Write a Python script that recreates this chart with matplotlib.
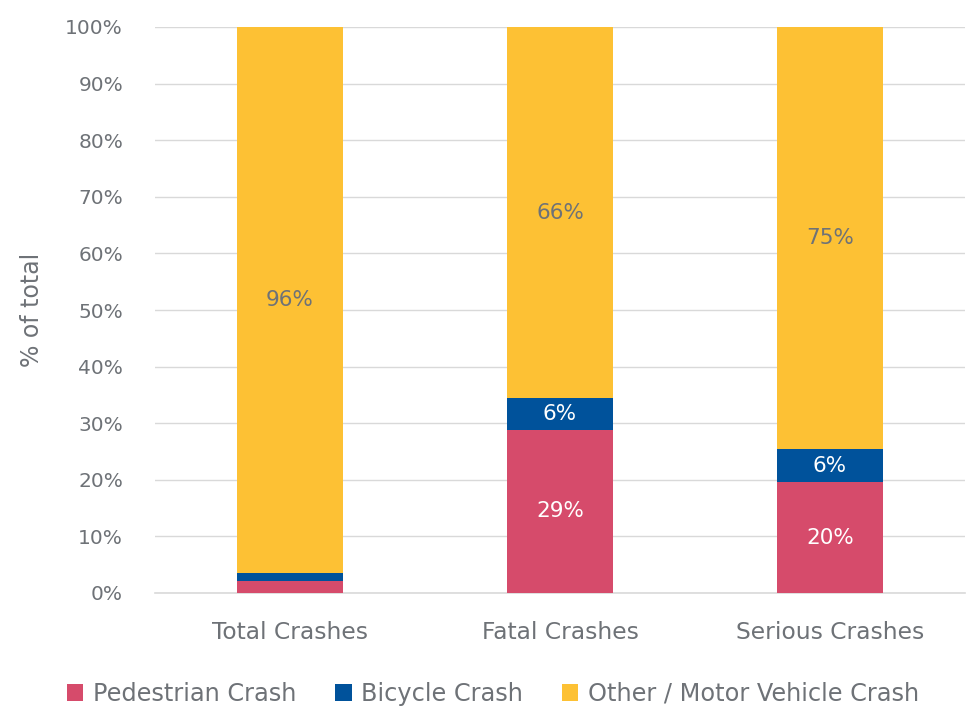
import matplotlib
matplotlib.use("Agg")
import matplotlib.pyplot as plt
from matplotlib.patches import Patch
from matplotlib.ticker import PercentFormatter

plt.rcParams['font.family'] = ['DejaVu Sans']

categories = ["Total Crashes", "Fatal Crashes", "Serious Crashes"]
series_names = ["Pedestrian Crash", "Bicycle Crash", "Other / Motor Vehicle Crash"]
pedestrian = [2.2, 28.8, 19.6]
bicycle = [1.4, 5.6, 5.8]
other = [96.4, 65.6, 74.6]
colors = ["#D64B6B", "#00529B", "#FDC134"]
label_colors = ["white", "white", "#6E7277"]
min_labeled = 4.0

text_gray = "#6E7277"

fig = plt.figure(figsize=(9.72, 7.07), dpi=100)
ax = fig.add_axes([155 / 972, (707 - 593) / 707, 810 / 972, 566 / 707])

x = list(range(len(categories)))
bottoms = [0.0] * len(categories)
for vals, name, col, lcol in zip([pedestrian, bicycle, other], series_names, colors, label_colors):
    ax.bar(x, vals, width=0.396, bottom=bottoms, color=col, label=name, zorder=3)
    for xi, v, b in zip(x, vals, bottoms):
        if v >= min_labeled:
            ax.text(xi, b + v / 2, f"{round(v):d}%", ha="center", va="center",
                    color=lcol, fontsize=15.5, zorder=4)
    bottoms = [b + v for b, v in zip(bottoms, vals)]

ax.set_xlim(-0.5, 2.5)
ax.set_ylim(0, 100)
ax.set_yticks(range(0, 101, 10))
ax.yaxis.set_major_formatter(PercentFormatter(100, decimals=0))
ax.set_xticks(x)
ax.set_xticklabels(categories)
ax.grid(axis="y", color="#D9D9D9", linewidth=1, zorder=0)
for s in ["top", "right", "left"]:
    ax.spines[s].set_visible(False)
ax.spines["bottom"].set_color("#D9D9D9")
ax.spines["bottom"].set_linewidth(1.2)
ax.tick_params(axis="y", length=0, labelsize=14.5, colors=text_gray, pad=23)
ax.tick_params(axis="x", length=0, labelsize=16.8, colors=text_gray, pad=20)
ax.set_ylabel("% of total", fontsize=17, color=text_gray, labelpad=15)

handles = [Patch(facecolor=c, edgecolor="none") for c in colors]
fig.legend(handles, series_names, loc="lower center", bbox_to_anchor=(0.507, -0.029),
           ncol=3, frameon=False, fontsize=17.3, labelcolor=text_gray,
           handlelength=0.7, handleheight=0.7, handletextpad=0.4, columnspacing=1.6)

fig.savefig("out.png", dpi=100)
